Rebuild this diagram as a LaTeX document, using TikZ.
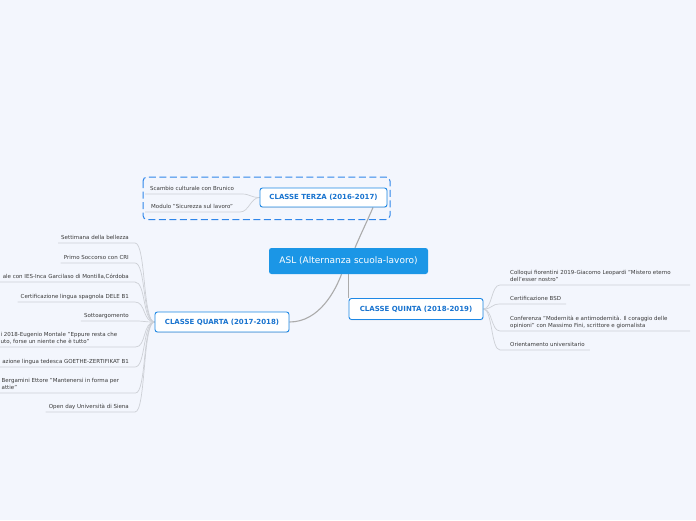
\documentclass[tikz,border=0pt]{standalone}
\usepackage{fontspec}
\setmainfont{DejaVu Sans}
\usetikzlibrary{shadows,backgrounds}
\pgfdeclarelayer{bgfill}
\pgfsetlayers{bgfill,background,main}
\definecolor{bgcol}{HTML}{F3F6FD}
\definecolor{rootfill}{HTML}{1B96E6}
\definecolor{topicborder}{HTML}{1E88E5}
\definecolor{topictext}{HTML}{1873CF}
\definecolor{leaftext}{HTML}{3A3A3A}
\definecolor{maingrey}{HTML}{ABABAB}
\definecolor{subgrey}{HTML}{CDD0D6}
\definecolor{dashblue}{HTML}{2F86EA}
\tikzset{
  leaf/.style={font=\fontsize{5.5}{7}\selectfont, text=leaftext, inner sep=0pt, text depth=0pt},
  leafL/.style={leaf, anchor=south west, align=left},
  leafR/.style={leaf, anchor=south east, align=right},
  topic/.style={draw=topicborder, line width=0.9pt, fill=white, rounded corners=2.5pt,
    text=topictext, font=\bfseries\fontsize{7}{8}\selectfont, inner sep=0pt,
    drop shadow={opacity=0.18, shadow xshift=0.4pt, shadow yshift=-0.9pt}},
  rootbox/.style={fill=rootfill, rounded corners=2.5pt, text=white,
    font=\fontsize{9}{10}\selectfont, inner sep=0pt, minimum width=159pt, minimum height=26pt},
  mainline/.style={draw=maingrey, line width=1.1pt},
  subline/.style={draw=subgrey, line width=0.7pt},
  groupbox/.style={draw=dashblue, line width=1pt, dash pattern=on 7pt off 3.5pt, rounded corners=4pt}
}
\begin{document}
\begin{tikzpicture}[x=1pt,y=-1pt]
\useasboundingbox (0,0) rectangle (696,520);
\begin{pgfonlayer}{bgfill}
\fill[bgcol] (0,0) rectangle (696,520);
\end{pgfonlayer}
\clip (0,0) rectangle (696,520);

% main nodes
\node[rootbox] (root) at (348.5,261) {ASL (Alternanza scuola-lavoro)};
\node[topic, minimum width=127pt, minimum height=19pt] (terza) at (323.5,197.5) {CLASSE TERZA (2016-2017)};
\node[topic, minimum width=134pt, minimum height=20pt] (quarta) at (222,322) {CLASSE QUARTA (2017-2018)};
\node[topic, minimum width=134pt, minimum height=21pt] (quinta) at (416,309) {CLASSE QUINTA (2018-2019)};

% group box of terza
\draw[groupbox] (143,177) rectangle (390,219.5);

% terza leaves
\node[leafL] (t1) at (150,190.5) {Scambio culturale con Brunico};
\node[leafL] (t2) at (151,208.5) {Modulo "Sicurezza sul lavoro"};

% quarta leaves
\node[leafR] (q1) at (129,239.5) {Settimana della bellezza};
\node[leafR] (q2) at (129,259.5) {Primo Soccorso con CRI};
\node[leafR] (q3) at (129,278.5) {ale con IES-Inca Garcilaso di Montilla,Córdoba};
\node[leafR] (q4) at (129,298.5) {Certificazione lingua spagnola DELE B1};
\node[leafR] (q5) at (129,317.5) {Sottoargomento};
\node[leafL] (q6) at (0.5,343.5) {i 2018-Eugenio Montale "Eppure resta che\\uto, forse un niente che è tutto"};
\node[leafR] (q7) at (129,363.5) {azione lingua tedesca GOETHE-ZERTIFIKAT B1};
\node[leafL] (q8) at (1.5,389.5) {Bergamini Ettore "Mantenersi in forma per\\attie"};
\node[leafR] (q9) at (129,408.5) {Open day Università di Siena};

% quinta leaves
\node[leafL] (c1) at (510,281.5) {Colloqui fiorentini 2019-Giacomo Leopardi "Mistero eterno\\dell'esser nostro"};
\node[leafL] (c2) at (510,300.5) {Certificazione BSD};
\node[leafL] (c3) at (510,327.5) {Conferenza "Modernità e antimodernità. Il coraggio delle\\opinioni" con Massimo Fini, scrittore e giornalista};
\node[leafL] (c4) at (510,346.5) {Orientamento universitario};

% free ends of underlines
\coordinate (q3end) at (0,282);
\coordinate (q6end) at (0,347);
\coordinate (q7end) at (0,367);
\coordinate (q8end) at (0,393);
\coordinate (c1end) at (690,285);
\coordinate (c3end) at (690,331);

\begin{pgfonlayer}{background}
% main connectors
\draw[mainline] ([xshift=6.5pt]root.north) .. controls +(5,-12) and +(-6,14) .. ([xshift=49.5pt]terza.south);
\draw[mainline] (quarta.east) .. controls +(30,0) and +(-6,16) .. ([xshift=-7pt]root.south);
\draw[mainline] (root.south) -- (root.south |- quinta.north);

% terza connectors
\draw[subline] (terza.west) .. controls +(-9,0) and +(8,0) .. ([xshift=92pt,yshift=-3.5pt]t1.south west) -- ([xshift=-5pt,yshift=-3.5pt]t1.south west);
\draw[subline] (terza.west) .. controls +(-9,0) and +(9,0) .. ([xshift=89pt,yshift=-3.5pt]t2.south west) -- ([xshift=-6pt,yshift=-3.5pt]t2.south west);

% quarta connectors
\draw[subline] (quarta.west) .. controls +(-12,0) and +(11,0) .. ([xshift=6pt,yshift=-3.5pt]q1.south east) -- ([xshift=-3pt,yshift=-3.5pt]q1.south west);
\draw[subline] (quarta.west) .. controls +(-12,0) and +(11,0) .. ([xshift=6pt,yshift=-3.5pt]q2.south east) -- ([xshift=-3pt,yshift=-3.5pt]q2.south west);
\draw[subline] (quarta.west) .. controls +(-12,0) and +(11,0) .. ([xshift=6pt,yshift=-3.5pt]q3.south east) -- (q3end);
\draw[subline] (quarta.west) .. controls +(-12,0) and +(11,0) .. ([xshift=6pt,yshift=-3.5pt]q4.south east) -- ([xshift=-3pt,yshift=-3.5pt]q4.south west);
\draw[subline] (quarta.west) .. controls +(-12,0) and +(11,0) .. ([xshift=6pt,yshift=-3.5pt]q5.south east) -- ([xshift=-3pt,yshift=-3.5pt]q5.south west);
\draw[subline] (quarta.west) .. controls +(-12,0) and +(11,0) .. ([xshift=135pt,yshift=-3.5pt]q6.south west) -- (q6end);
\draw[subline] (quarta.west) .. controls +(-12,0) and +(11,0) .. ([xshift=6pt,yshift=-3.5pt]q7.south east) -- (q7end);
\draw[subline] (quarta.west) .. controls +(-12,0) and +(11,0) .. ([xshift=134pt,yshift=-3.5pt]q8.south west) -- (q8end);
\draw[subline] (quarta.west) .. controls +(-12,0) and +(11,0) .. ([xshift=6pt,yshift=-3.5pt]q9.south east) -- ([xshift=-3pt,yshift=-3.5pt]q9.south west);

% quinta connectors
\draw[subline] (quinta.east) .. controls +(9,0) and +(-9,0) .. ([xshift=-10pt,yshift=-3.5pt]c1.south west) -- (c1end);
\draw[subline] (quinta.east) .. controls +(9,0) and +(-9,0) .. ([xshift=-10pt,yshift=-3.5pt]c2.south west) -- ([xshift=5pt,yshift=-3.5pt]c2.south east);
\draw[subline] (quinta.east) .. controls +(9,0) and +(-9,0) .. ([xshift=-10pt,yshift=-3.5pt]c3.south west) -- (c3end);
\draw[subline] (quinta.east) .. controls +(9,0) and +(-9,0) .. ([xshift=-10pt,yshift=-3.5pt]c4.south west) -- ([xshift=5pt,yshift=-3.5pt]c4.south east);
\end{pgfonlayer}
\end{tikzpicture}
\end{document}
